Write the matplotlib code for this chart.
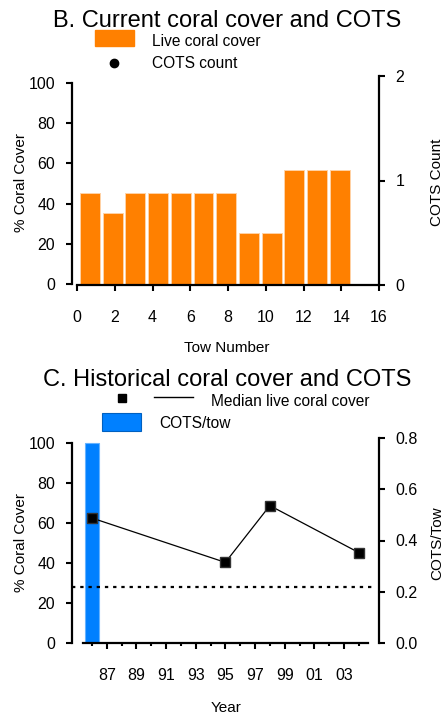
import matplotlib
matplotlib.use('Agg')
import matplotlib.pyplot as plt
import matplotlib.transforms as mtransforms
from matplotlib.patches import Rectangle
from matplotlib.lines import Line2D

plt.rcParams['font.family'] = ['Liberation Sans', 'DejaVu Sans']

# B. current survey
tows = [1, 2, 3, 4, 5, 6, 7, 8, 9, 10, 11, 12]
coral_cover = [45.5, 35.5, 45.5, 45.5, 45.5, 45.5, 45.5, 25.5, 25.5, 56.5, 56.5, 56.5]
tow_ticks = [0, 2, 4, 6, 8, 10, 12, 14, 16]

# C. historical
hist_years = [1986, 1995, 1998, 2004]
median_cover = [62.5, 40.3, 68.7, 45.2]
cots_years = [1986]
cots_per_tow = [0.78]
cots_threshold = 0.22
year_major = [1987, 1989, 1991, 1993, 1995, 1997, 1999, 2001, 2003]
year_minor = [1986, 1988, 1990, 1992, 1994, 1996, 1998, 2000, 2002, 2004]

ORANGE = '#ff8000'
BLUE = '#0080ff'
W, H = 446, 716
TITLE_FS = 17
LABEL_FS = 11
LEGEND_FS = 11.2

fig = plt.figure(figsize=(W / 100, H / 100), dpi=100)
px = mtransforms.Affine2D().scale(1 / W, -1 / H).translate(0, 1) + fig.transFigure


def rect(x0, y0, x1, y1):
  return [x0 / W, 1 - y1 / H, (x1 - x0) / W, (y1 - y0) / H]


def bare(ax):
  ax.patch.set_visible(False)
  for s in ax.spines.values():
    s.set_visible(False)
  ax.set_xticks([])
  ax.set_yticks([])


def style_spine(ax, side):
  ax.spines[side].set_visible(True)
  ax.spines[side].set_linewidth(1.6)


TICK = dict(width=1.5, length=4, labelsize=11.5, direction='out')

# ---------------- panel B ----------------
ax_bar = fig.add_axes(rect(72, 83, 379, 284))
bare(ax_bar)
ax_bar.bar(tows, coral_cover, width=0.88, color=ORANGE, edgecolor='#ffd2a6', linewidth=0.7)
ax_bar.set_xlim(1 - 18 / 22.7, 1 + (379 - 90) / 22.7)
ax_bar.set_ylim(0, 100)
style_spine(ax_bar, 'left')
ax_bar.set_yticks([0, 20, 40, 60, 80, 100])
ax_bar.tick_params(axis='y', pad=8, **TICK)

ax_b2 = fig.add_axes(rect(72, 76, 379, 285))
bare(ax_b2)
ax_b2.set_xlim(-5 / 18.875, 16)
ax_b2.set_ylim(0, 2)
style_spine(ax_b2, 'right')
style_spine(ax_b2, 'bottom')
ax_b2.spines['bottom'].set_bounds(0, 16)
ax_b2.yaxis.set_ticks_position('right')
ax_b2.set_yticks([0, 1, 2])
ax_b2.set_xticks(tow_ticks)
ax_b2.tick_params(axis='y', pad=8, **TICK)
ax_b2.tick_params(axis='x', pad=14, **TICK)

fig.text(227, 21, 'B. Current coral cover and COTS', transform=px, ha='center', va='center', fontsize=TITLE_FS)
fig.add_artist(Rectangle((95, 30), 39, 16, transform=px, color=ORANGE))
fig.text(152, 41, 'Live coral cover', transform=px, ha='left', va='center', fontsize=LEGEND_FS)
fig.add_artist(Line2D([114], [63], transform=px, marker='o', ms=6, color='black', ls='none'))
fig.text(152, 64, 'COTS count', transform=px, ha='left', va='center', fontsize=LEGEND_FS)
fig.text(21, 183, '% Coral Cover', transform=px, ha='center', va='center', rotation=90, fontsize=LABEL_FS)
fig.text(437, 182, 'COTS Count', transform=px, ha='center', va='center', rotation=90, fontsize=LABEL_FS)
fig.text(227, 348, 'Tow Number', transform=px, ha='center', va='center', fontsize=LABEL_FS)

# ---------------- panel C ----------------
yr_per_px = 1 / 14.83
xlim_c = (1987 - (106.7 - 72) * yr_per_px, 2003 + (379 - 344) * yr_per_px)

ax_cr = fig.add_axes(rect(72, 438, 379, 643))
bare(ax_cr)
ax_cr.bar(cots_years, cots_per_tow, width=0.9, color=BLUE, edgecolor='#66b3ff', linewidth=0.8)
ax_cr.axhline(cots_threshold, xmin=0, xmax=0.987, color='black', lw=1.6, ls=(0, (1.5, 2.2)))
ax_cr.set_xlim(*xlim_c)
ax_cr.set_ylim(0, 0.8)
style_spine(ax_cr, 'right')
ax_cr.yaxis.set_ticks_position('right')
ax_cr.set_yticks([0, 0.2, 0.4, 0.6, 0.8], ['0.0', '0.2', '0.4', '0.6', '0.8'])
ax_cr.tick_params(axis='y', pad=8, **TICK)

ax_c = fig.add_axes(rect(72, 443, 379, 643))
bare(ax_c)
ax_c.plot(hist_years, median_cover, color='black', lw=0.9, marker='s', ms=6.5,
          mfc='black', mec='#333333')
ax_c.set_xlim(*xlim_c)
ax_c.set_ylim(0, 100)
style_spine(ax_c, 'left')
style_spine(ax_c, 'bottom')
ax_c.spines['bottom'].set_bounds(1985.4, 2004.6)
ax_c.set_yticks([0, 20, 40, 60, 80, 100])
ax_c.set_xticks(year_major, [f'{y % 100:02d}' for y in year_major])
ax_c.set_xticks(year_minor, minor=True)
ax_c.tick_params(axis='y', pad=8, **TICK)
ax_c.tick_params(axis='x', pad=14, **TICK)
ax_c.tick_params(axis='x', which='minor', width=1.5, length=2, direction='out')

fig.text(227, 380, 'C. Historical coral cover and COTS', transform=px, ha='center', va='center', fontsize=TITLE_FS)
fig.add_artist(Line2D([122], [398], transform=px, marker='s', ms=6, color='black', ls='none'))
fig.add_artist(Line2D([154, 193], [397, 397], transform=px, color='black', lw=1))
fig.text(211, 401, 'Median live coral cover', transform=px, ha='left', va='center', fontsize=LEGEND_FS)
fig.add_artist(Rectangle((102, 413), 39, 18, transform=px, facecolor=BLUE, edgecolor='#0060c0', lw=0.8))
fig.text(159, 424, 'COTS/tow', transform=px, ha='left', va='center', fontsize=LEGEND_FS)
fig.text(21, 543, '% Coral Cover', transform=px, ha='center', va='center', rotation=90, fontsize=LABEL_FS)
fig.text(437, 543, 'COTS/Tow', transform=px, ha='center', va='center', rotation=90, fontsize=LABEL_FS)
fig.text(226, 708, 'Year', transform=px, ha='center', va='center', fontsize=LABEL_FS)

fig.savefig('out.png', dpi=100)
